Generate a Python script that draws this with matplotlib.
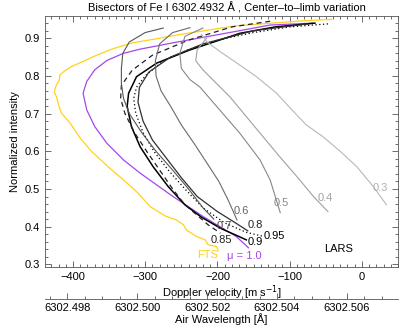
import matplotlib
matplotlib.use("Agg")
import matplotlib.pyplot as plt
from matplotlib.ticker import MultipleLocator

plt.rcParams["font.family"] = ["Liberation Sans", "DejaVu Sans"]
plt.rcParams["font.size"] = 8

# bisectors: (velocity [m/s], normalized intensity)
fts_v = [-42, -82, -174, -255, -289, -317, -345, -372, -390, -402, -413, -418, -419, -423, -426,
         -423, -420, -416, -404, -390, -374, -349, -333, -312, -293, -282, -273, -257, -247, -243,
         -229, -217, -213, -201, -199]
fts_i = [0.950, 0.946, 0.933, 0.909, 0.897, 0.888, 0.872, 0.851, 0.835, 0.825, 0.811, 0.803, 0.789,
         0.776, 0.758, 0.745, 0.723, 0.701, 0.675, 0.635, 0.599, 0.555, 0.529, 0.493, 0.453, 0.440,
         0.429, 0.418, 0.405, 0.391, 0.374, 0.365, 0.352, 0.347, 0.336]

mu10_v = [-68, -127, -169, -215, -261, -307, -330, -353, -370, -381, -386, -381, -370, -353, -330,
          -307, -263, -220, -174, -157]
mu10_i = [0.940, 0.935, 0.920, 0.904, 0.888, 0.871, 0.860, 0.841, 0.816, 0.785, 0.754, 0.710, 0.666,
          0.621, 0.577, 0.542, 0.482, 0.427, 0.374, 0.344]

mu095_v = [-47, -100, -150, -200, -240, -275, -300, -312, -316, -313, -303, -288, -268, -245, -220,
           -190, -160, -138]
mu095_i = [0.938, 0.930, 0.915, 0.895, 0.870, 0.840, 0.800, 0.770, 0.740, 0.700, 0.650, 0.600, 0.550,
           0.500, 0.450, 0.410, 0.385, 0.375]

mu09_v = [-65, -120, -169, -238, -284, -312, -323, -325, -319, -307, -289, -268, -245, -222, -195,
          -175, -160]
mu09_i = [0.940, 0.930, 0.913, 0.869, 0.834, 0.798, 0.754, 0.719, 0.665, 0.612, 0.559, 0.506, 0.458,
          0.425, 0.395, 0.378, 0.365]

mu085_v = [-127, -180, -240, -290, -318, -333, -334, -328, -315, -298, -280, -262, -245, -229, -213,
           -196]
mu085_i = [0.945, 0.930, 0.895, 0.855, 0.815, 0.775, 0.740, 0.700, 0.650, 0.600, 0.550, 0.500, 0.458,
           0.432, 0.405, 0.383]

mu08_v = [-75, -150, -220, -265, -295, -308, -310, -303, -290, -270, -250, -228, -200, -175, -158]
mu08_i = [0.938, 0.920, 0.885, 0.850, 0.810, 0.770, 0.730, 0.680, 0.630, 0.580, 0.530, 0.480, 0.440,
          0.410, 0.389]

mu07_v = [-275, -300, -322, -331, -333, -333, -330, -322, -305, -285, -262, -240, -220, -205]
mu07_i = [0.927, 0.915, 0.890, 0.860, 0.820, 0.780, 0.740, 0.700, 0.650, 0.600, 0.550, 0.500, 0.450,
          0.420]

mu06_v = [-238, -262, -280, -286, -285, -278, -265, -250, -232, -215, -198, -185, -173]
mu06_i = [0.928, 0.915, 0.885, 0.840, 0.800, 0.760, 0.720, 0.670, 0.620, 0.570, 0.520, 0.470, 0.418]

mu05_v = [-220, -245, -252, -250, -238, -224, -197, -169, -141, -127, -113]
mu05_i = [0.927, 0.905, 0.860, 0.820, 0.790, 0.770, 0.710, 0.648, 0.577, 0.524, 0.437]

mu04_v = [-215, -228, -230, -220, -206, -183, -160, -137, -114, -90, -67, -47]
mu04_i = [0.900, 0.870, 0.840, 0.816, 0.789, 0.745, 0.692, 0.639, 0.586, 0.533, 0.480, 0.440]

mu03_v = [-222, -215, -196, -173, -146, -118, -97, -77, -54, -30, -7, 16, 34]
mu03_i = [0.910, 0.891, 0.864, 0.834, 0.798, 0.754, 0.710, 0.670, 0.639, 0.600, 0.559, 0.506, 0.458]

# curve labels: text, velocity, intensity
label_txt = ["0.3", "0.4", "0.5", "0.6", "0.7", "0.8", "0.85", "0.9", "0.95"]
label_v = [25, -51, -111, -167, -190, -147, -195, -147, -121]
label_i = [0.503, 0.476, 0.464, 0.442, 0.402, 0.405, 0.365, 0.358, 0.376]

wl_ticks = [6302.498, 6302.500, 6302.502, 6302.504, 6302.506]
wl_lim = (6302.49736, 6302.50746)

fig = plt.figure(figsize=(4.15, 3.26), dpi=100)
ax = fig.add_axes([0.108, 0.181, 0.851, 0.770])

ax.plot(fts_v, fts_i, color="#ffd21a", lw=0.9)
ax.plot(mu10_v, mu10_i, color="#a448ea", lw=0.9)
ax.plot(mu095_v, mu095_i, color="black", lw=0.9, ls=(0, (1, 2)))
ax.plot(mu09_v, mu09_i, color="black", lw=1.1)
ax.plot(mu085_v, mu085_i, color="#202020", lw=0.9, ls=(0, (4, 3)))
ax.plot(mu08_v, mu08_i, color="#303030", lw=0.9)
ax.plot(mu07_v, mu07_i, color="#555555", lw=0.8)
ax.plot(mu06_v, mu06_i, color="#6a6a6a", lw=0.8)
ax.plot(mu05_v, mu05_i, color="#888888", lw=0.8)
ax.plot(mu04_v, mu04_i, color="#a0a0a0", lw=0.8)
ax.plot(mu03_v, mu03_i, color="#b8b8b8", lw=0.8)

label_col = ["#b0b0b0", "#a0a0a0", "#888888", "#666666", "#444444", "#222222", "#222222",
             "black", "black"]
for t, v, i, c in zip(label_txt, label_v, label_i, label_col):
    ax.text(v, i, t, color=c, fontsize=8, ha="center", va="center")
ax.text(-214, 0.325, "FTS", color="#ffd21a", fontsize=8, ha="center", va="center")
ax.text(-163, 0.323, "\u03bc = 1.0", color="#a448ea", fontsize=8, ha="center", va="center")
ax.text(-32, 0.341, "LARS", color="black", fontsize=8, ha="center", va="center")

ax.set_xlim(-439, 50)
ax.set_ylim(0.293, 0.959)
ax.xaxis.set_major_locator(MultipleLocator(100))
ax.xaxis.set_minor_locator(MultipleLocator(10))
ax.yaxis.set_major_locator(MultipleLocator(0.1))
ax.yaxis.set_minor_locator(MultipleLocator(0.02))
ax.tick_params(which="both", direction="in", top=True, right=True, width=0.6, color="#555555")
ax.tick_params(which="major", length=4)
ax.tick_params(which="minor", length=2.5)
ax.set_yticks([0.3, 0.4, 0.5, 0.6, 0.7, 0.8, 0.9])
ax.set_yticklabels(["0.3", "0.4", "0.5", "0.6", "0.7", "0.8", "0.9"])
ax.set_xlabel("Doppler velocity [m s$^{-1}$]", labelpad=1)
ax.set_ylabel("Normalized intensity", labelpad=3)
for s in ax.spines.values():
    s.set_linewidth(0.6)
    s.set_color("#555555")
ax.set_title("Bisectors of Fe I 6302.4932 \u00c5 , Center\u2013to\u2013limb variation",
             fontsize=8, pad=3, x=0.516)

# wavelength axis below
ax2 = fig.add_axes([0.108, 0.0828, 0.851, 0.0])
ax2.set_xlim(*wl_lim)
ax2.set_yticks([])
for k in ["left", "right", "top"]:
    ax2.spines[k].set_visible(False)
ax2.spines["bottom"].set_linewidth(0.6)
ax2.spines["bottom"].set_color("#555555")
ax2.set_xticks(wl_ticks)
ax2.set_xticklabels(["%.3f" % w for w in wl_ticks])
ax2.xaxis.set_minor_locator(MultipleLocator(0.0005))
ax2.tick_params(which="both", direction="in", width=0.6, color="#555555", pad=3)
ax2.tick_params(which="major", length=4)
ax2.tick_params(which="minor", length=2.5)
ax2.set_xlabel("Air Wavelength [\u00c5]", labelpad=0)
ax2.patch.set_visible(False)

fig.savefig("out.png", dpi=100)
